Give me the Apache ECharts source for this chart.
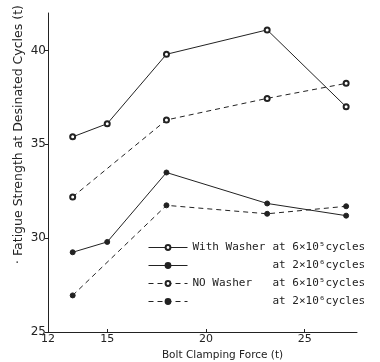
<!DOCTYPE html>
<html><head><meta charset="utf-8">
<script src="https://cdn.jsdelivr.net/npm/echarts@6/dist/echarts.min.js"></script>
<style>html,body{margin:0;padding:0;background:#fff}#c{width:380px;height:362px}</style>
</head><body><div id="c"></div>
<script>
// Bolt clamping force (t)
const forceWithWasher = [13.25, 15, 18, 23.1, 27.1];
const forceNoWasher = [13.25, 18, 23.1, 27.1];
// Fatigue strength (t)
const withWasher6e5 = [35.4, 36.1, 39.8, 41.1, 37.0];
const withWasher2e6 = [29.25, 29.8, 33.5, 31.85, 31.2];
const noWasher6e5 = [32.2, 36.3, 37.45, 38.25];
const noWasher2e6 = [26.95, 31.75, 31.3, 31.7];
const seriesNames = ['With Washer at 6×10⁵cycles', 'With Washer at 2×10⁶cycles', 'NO Washer at 6×10⁵cycles', 'NO Washer at 2×10⁶cycles'];
const xTickValues = [12, 15, 20, 25];
const yTickValues = [25, 30, 35, 40];

const pair = (xs, ys) => xs.map((x, i) => [x, ys[i]]);
const ink = '#222';
const font = '"DejaVu Sans", sans-serif';
const mono = '"DejaVu Sans Mono", monospace';

function mk(name, xs, ys, sym, dashed) {
  return {
    name, type: 'line', data: pair(xs, ys),
    symbol: sym, symbolSize: 5, showSymbol: true,
    lineStyle: { color: ink, width: 1, type: dashed ? [5, 4] : 'solid' },
    itemStyle: { color: ink, borderColor: ink, borderWidth: 1 },
    emphasis: { disabled: true }, animation: false
  };
}

const chart = echarts.init(document.getElementById('c'));
chart.setOption({
  backgroundColor: '#fff',
  animation: false,
  grid: { left: 48, right: 23, top: 13, bottom: 30, outerBoundsMode: 'none', containLabel: false },
  legend: {
    orient: 'vertical', left: 148, top: 242, padding: 0, itemWidth: 39, itemHeight: 6, itemGap: 7,
    data: seriesNames,
    lineStyle: { width: 1 },
    textStyle: { color: ink, fontFamily: mono, fontSize: 11,
      rich: { a: { width: 80, fontFamily: mono, fontSize: 11, color: ink }, b: { fontFamily: mono, fontSize: 11, color: ink } } },
    formatter: n => {
      const i = seriesNames.indexOf(n);
      const lead = i === 0 ? 'With Washer' : (i === 2 ? 'NO Washer' : '');
      const tail = n.slice(n.indexOf('at '));
      return '{a|' + lead + '}{b|' + tail + '}';
    }
  },
  xAxis: {
    type: 'value', min: 12, max: 27.65,
    name: 'Bolt Clamping Force (t)', nameLocation: 'middle', nameGap: 17,
    nameTextStyle: { color: ink, fontFamily: font, fontSize: 10.5, padding: [0, 0, 0, 40] },
    axisLine: { lineStyle: { color: ink, width: 1 } },
    axisTick: { show: true, inside: true, length: 3, customValues: xTickValues, lineStyle: { color: ink } },
    axisLabel: { customValues: xTickValues, color: ink, fontFamily: font, fontSize: 11, margin: 2 },
    splitLine: { show: false }
  },
  yAxis: {
    type: 'value', min: 25, max: 42,
    name: '· Fatigue Strength at Desinated Cycles (t)', nameLocation: 'middle', nameGap: 23, nameRotate: 90,
    nameMoveOverlap: false,
    nameTextStyle: { color: ink, fontFamily: font, fontSize: 12.5, padding: [0, 0, 0, 76] },
    axisLine: { show: true, lineStyle: { color: ink, width: 1 } },
    axisTick: { show: true, length: 3, customValues: yTickValues, lineStyle: { color: ink } },
    axisLabel: { customValues: yTickValues, color: ink, fontFamily: font, fontSize: 12, margin: 2 },
    splitLine: { show: false }
  },
  series: [
    mk(seriesNames[0], forceWithWasher, withWasher6e5, 'emptyCircle', false),
    mk(seriesNames[1], forceWithWasher, withWasher2e6, 'circle', false),
    mk(seriesNames[2], forceNoWasher, noWasher6e5, 'emptyCircle', true),
    mk(seriesNames[3], forceNoWasher, noWasher2e6, 'circle', true)
  ]
});
</script></body></html>
